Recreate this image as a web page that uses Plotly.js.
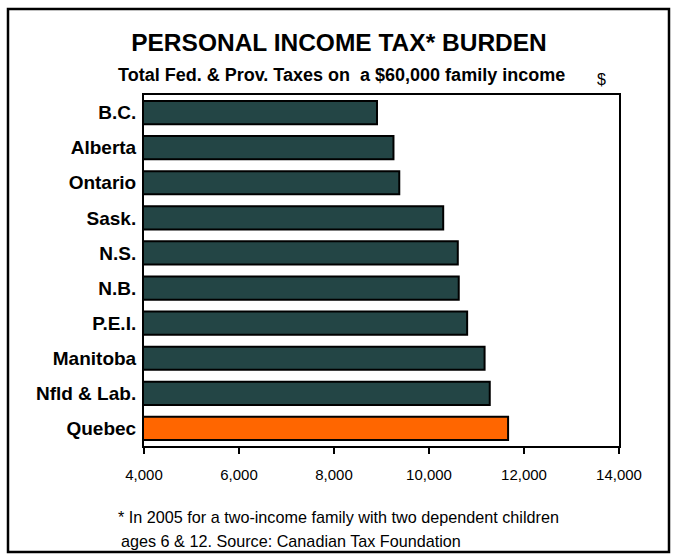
<!DOCTYPE html>
<html>
<head>
<meta charset="utf-8">
<script src="https://cdn.plot.ly/plotly-3.0.1.min.js"></script>
<style>
html,body{margin:0;padding:0;background:#fff;}
#chart{width:680px;height:557px;}
</style>
</head>
<body>
<div id="chart"></div>
<script>
const provinces = ["B.C.", "Alberta", "Ontario", "Sask.", "N.S.", "N.B.", "P.E.I.", "Manitoba", "Nfld & Lab.", "Quebec"];
const taxBurden = [8905, 9252, 9374, 10299, 10606, 10626, 10803, 11170, 11279, 11665];
const barColors = ["#234545", "#234545", "#234545", "#234545", "#234545", "#234545", "#234545", "#234545", "#234545", "#FF6600"];
const xTicks = [4000, 6000, 8000, 10000, 12000, 14000];
const xTickLabels = ["4,000", "6,000", "8,000", "10,000", "12,000", "14,000"];

const W = 680, H = 557;
const L = 144, R = 619, T = 95, B = 446;
const px = x => (x - L) / (R - L);
const py = y => (B - y) / (B - T);
const font = "Liberation Sans, Arial, sans-serif";

const trace = {
  type: "bar",
  orientation: "h",
  y: provinces,
  x: taxBurden,
  base: 0,
  marker: {color: barColors, line: {color: "#000", width: 2}},
  hoverinfo: "x+y"
};

const layout = {
  width: W, height: H,
  margin: {l: L, r: W - R, t: T, b: H - B, pad: 0},
  paper_bgcolor: "#fff",
  plot_bgcolor: "#fff",
  bargap: 0.34,
  showlegend: false,
  font: {family: font, color: "#000"},
  xaxis: {
    range: [4000, 14000],
    tickvals: xTicks,
    ticktext: xTickLabels,
    ticks: "outside", ticklen: 6, tickwidth: 2, tickcolor: "#000",
    ticklabelstandoff: 8,
    showgrid: false, zeroline: false,
    showline: true, linewidth: 2, linecolor: "#000", mirror: true,
    tickfont: {size: 15, family: font},
    automargin: false
  },
  yaxis: {
    autorange: "reversed",
    ticks: "", showgrid: false, zeroline: false,
    showline: true, linewidth: 2, linecolor: "#000", mirror: true,
    tickfont: {size: 19, family: font, weight: "bold"},
    ticklabelstandoff: 2,
    automargin: false
  },
  title: {
    text: "<b>PERSONAL INCOME TAX* BURDEN</b>",
    font: {size: 24.5, family: font, color: "#000"},
    x: 339 / W, xref: "container", xanchor: "center",
    y: 1 - 42 / H, yref: "container", yanchor: "middle"
  },
  annotations: [
    {text: "<b>Total Fed. &amp; Prov. Taxes on  a $60,000 family income</b>", xref: "paper", yref: "paper",
     x: px(341), y: py(75), xanchor: "center", yanchor: "middle", showarrow: false,
     font: {size: 18, family: font}},
    {text: "$", xref: "paper", yref: "paper", x: px(601), y: py(79), xanchor: "center", yanchor: "middle",
     showarrow: false, font: {size: 16, family: font}},
    {text: "* In 2005 for a two-income family with two dependent children", xref: "paper", yref: "paper",
     x: px(116), y: py(517), xanchor: "left", yanchor: "middle", showarrow: false,
     font: {size: 16.2, family: font}},
    {text: "ages 6 &amp; 12. Source: Canadian Tax Foundation", xref: "paper", yref: "paper",
     x: px(119), y: py(541), xanchor: "left", yanchor: "middle", showarrow: false,
     font: {size: 16.2, family: font}}
  ],
  shapes: [
    {type: "rect", xref: "paper", yref: "paper", x0: px(8), x1: px(669), y0: py(9), y1: py(552),
     line: {color: "#000", width: 2.5}, fillcolor: "rgba(0,0,0,0)", layer: "above"}
  ]
};

Plotly.newPlot("chart", [trace], layout, {displayModeBar: false, staticPlot: true});
</script>
</body>
</html>
